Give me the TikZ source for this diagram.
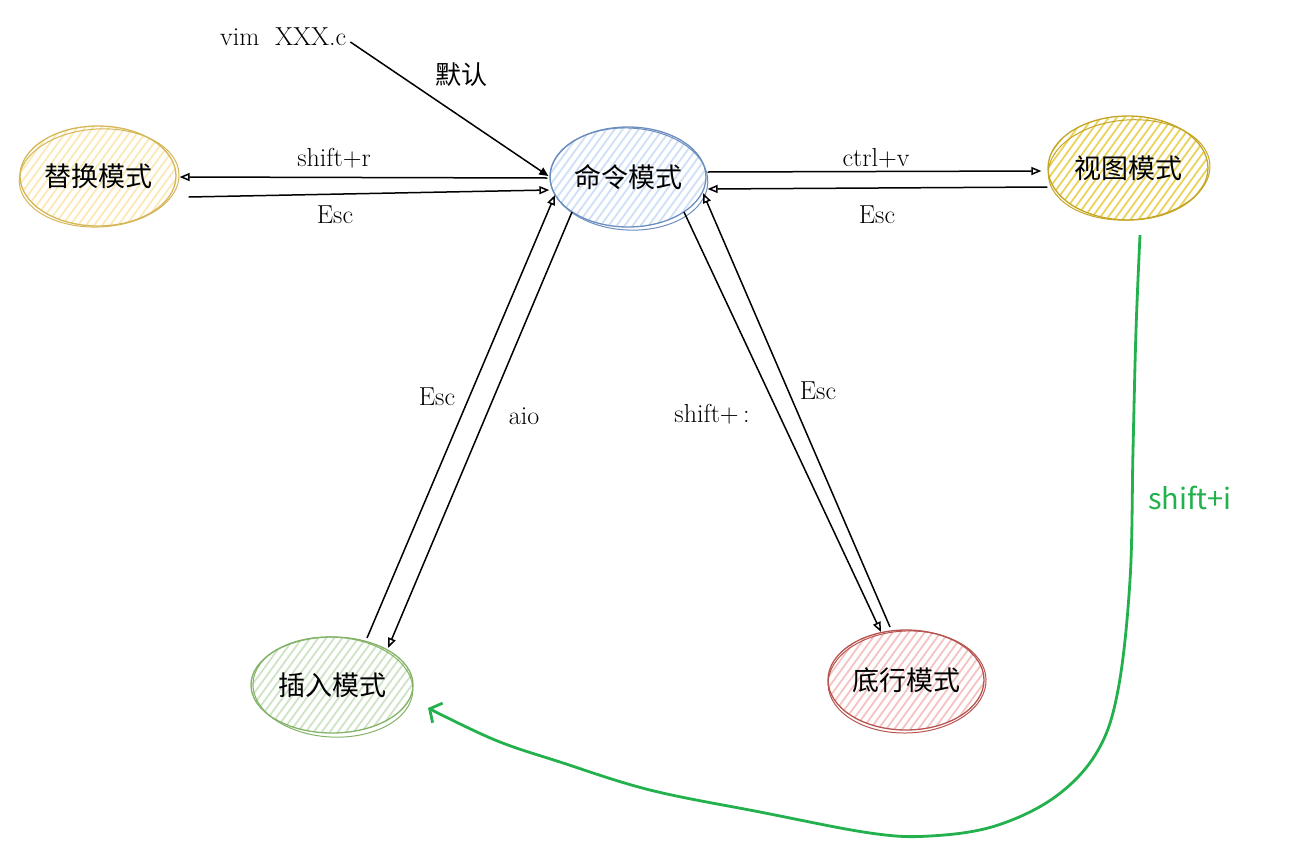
\documentclass[tikz,border=0pt]{standalone}
\usepackage{fontspec}
\newfontfamily\cjk{Noto Sans CJK SC}
\usetikzlibrary{shapes.geometric,arrows.meta,calc}
\definecolor{repS}{HTML}{D6B656}\definecolor{repH}{HTML}{FBEAB8}
\definecolor{cmdS}{HTML}{6C8EBF}\definecolor{cmdH}{HTML}{CFDFF5}
\definecolor{visS}{HTML}{C4A526}\definecolor{visH}{HTML}{EAD35C}
\definecolor{insS}{HTML}{82B366}\definecolor{insH}{HTML}{CFE3C6}
\definecolor{botS}{HTML}{B85450}\definecolor{botH}{HTML}{F4C4C2}
\definecolor{gr}{HTML}{22B14C}
\begin{document}
\begin{tikzpicture}[x=1pt,y=-1pt,
  mode/.style={ellipse, inner sep=0pt, fill=white, line width=1.3pt,
    font=\cjk\fontsize{27}{27}\selectfont, text=black},
  hatch/.style={path picture={\foreach \k in {-30,...,30}{
      \draw[line width=1.8pt,#1] ([xshift=\k*8pt]path picture bounding box.center) ++(-80pt,-110pt) -- ++(160pt,220pt);}}},
  lab/.style={font=\fontsize{26}{26}\selectfont, inner sep=1pt},
  arr/.style={line width=1.5pt, -{Triangle[open,length=10pt,width=8pt]}},
  gline/.style={gr, line width=2.8pt, line join=round, -{Straight Barb[length=9pt,width=22pt,line width=2.8pt]}}
]
\useasboundingbox (0,0) rectangle (1292,841);

\newcommand\rough[5]{%
  \draw[#2, line width=1pt, rotate around={#5:(#1.center)}] ($(#1.center)+(1,2)$) ellipse [x radius=#3pt, y radius=#4pt];}

\node[mode, draw=repS, hatch=repH, minimum width=156pt, minimum height=100pt] (rep) at (98,176) {替换模式};
\node[mode, draw=cmdS, hatch=cmdH, minimum width=156pt, minimum height=100pt] (cmd) at (628,177) {命令模式};
\node[mode, draw=visS, hatch=visH, minimum width=160pt, minimum height=104pt] (vis) at (1128,168) {视图模式};
\node[mode, draw=insS, hatch=insH, minimum width=162pt, minimum height=96pt] (ins) at (332,685) {插入模式};
\node[mode, draw=botS, hatch=botH, minimum width=156pt, minimum height=100pt] (bot) at (906,680) {底行模式};
\rough{rep}{repS}{80}{49}{3}
\rough{cmd}{cmdS}{79}{51}{-3}
\rough{vis}{visS}{81}{50}{4}
\rough{ins}{insS}{80}{50}{-3}
\rough{bot}{botS}{79}{51}{2}

% labels
\node[lab, anchor=west] (vim) at (219,37) {vim\ \ XXX.c};
\node[font=\cjk\fontsize{26}{26}\selectfont] (def) at (461,75) {默认};
\node[lab] (l1) at (334,158) {shift+r};
\node[lab] (l2) at (335,215) {Esc};
\node[lab] (l3) at (876,158) {ctrl+v};
\node[lab] (l4) at (877,215) {Esc};
\node[lab] (l5) at (437,397) {Esc};
\node[lab] (l6) at (524,416) {aio};
\node[lab] (l7) at (712,414) {shift+\,:};
\node[lab] (l8) at (818,391) {Esc};
\node[font=\cjk\fontsize{29}{29}\selectfont, text=gr] (l9) at (1190,498) {shift+i};

% connectors
\draw[line width=1.5pt, -{Triangle[length=9pt,width=8pt]}] ($(vim.east)+(3,5)$) -- ($(cmd.west)+(-1,-1)$);
\draw[arr] ($(cmd.west)+(-2,1)$) -- ($(rep.east)+(3,1)$);
\draw[arr] ($(rep.east)+(12,21)$) -- ($(cmd.west)+(0,13)$);
\draw[arr] ($(cmd.east)+(1,-5)$) -- ($(vis.west)+(-6,3)$);
\draw[arr] ($(vis.west)+(0,19)$) -- ($(cmd.east)+(1,12)$);
\draw[arr] ($(ins.center)+(35,-47)$) -- ($(cmd.center)+(-73,18)$);
\draw[arr] ($(cmd.center)+(-56,35)$) -- ($(ins.center)+(56,-37)$);
\draw[arr] ($(cmd.center)+(56,35)$) -- ($(bot.center)+(-25,-48)$);
\draw[arr] ($(bot.center)+(-16,-53)$) -- ($(cmd.center)+(75,16)$);

\coordinate (g0) at (1140,235);
\coordinate (g1) at (428,708);
\draw[gline] plot[smooth, tension=0.6] coordinates {(g0) (1136,330) (1133,450) (1130,580) (1118,690) (1097,752) (1055,797) (995,826) (930,836) (870,833) (760,812) (650,790) (560,762) (495,740) (g1)};
\end{tikzpicture}
\end{document}
